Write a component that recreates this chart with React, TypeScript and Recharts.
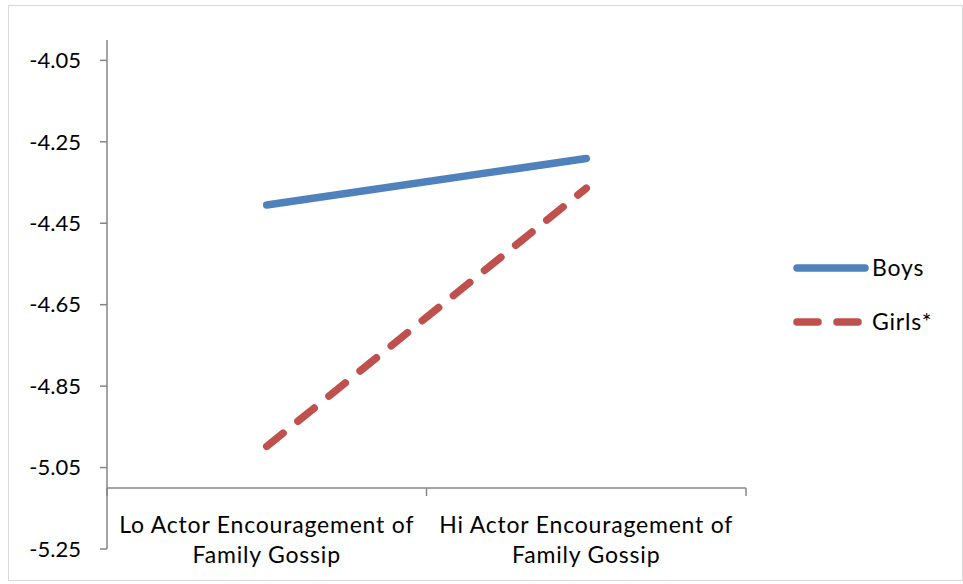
import React from "react";
import { LineChart, Line, XAxis, YAxis, ReferenceLine } from "recharts";

const categoryLines: string[][] = [
  ["Lo Actor Encouragement of", "Family Gossip"],
  ["Hi Actor Encouragement of", "Family Gossip"],
];
const categories = ["Lo", "Hi"];
const boys = [-4.405, -4.291];
const girls = [-4.998, -4.364];
const yTicks = [-5.25, -5.05, -4.85, -4.65, -4.45, -4.25, -4.05];
const yDomain: [number, number] = [-5.25, -4.0];
const crossAt = -5.1;
const seriesNames = ["Boys", "Girls*"];

const data = categories.map((c, i) => ({ cat: c, boys: boys[i], girls: girls[i] }));

const FONT = "Lato, 'Open Sans', sans-serif";
const AXIS = "#868686";
const BLUE = "#4F81BD";
const RED = "#C0504D";

const XTick = (props: any) => {
  const { x, y, index, width, visibleTicksCount } = props;
  const count = visibleTicksCount || categories.length;
  const band = width / count;
  const lineY = y - 61;
  const lines = categoryLines[index] || [];
  return (
    <g>
      <line x1={x - band / 2} x2={x - band / 2} y1={lineY} y2={lineY + 8} stroke={AXIS} strokeWidth={1.5} />
      {index === count - 1 && (
        <line x1={x + band / 2} x2={x + band / 2} y1={lineY} y2={lineY + 8} stroke={AXIS} strokeWidth={1.5} />
      )}
      <text x={x} y={y - 16} textAnchor="middle" fontFamily={FONT} fontSize={23} letterSpacing={0.8} fill="#000">
        {lines[0]}
      </text>
      <text x={x} y={y + 14} textAnchor="middle" fontFamily={FONT} fontSize={23} letterSpacing={0.8} fill="#000">
        {lines[1]}
      </text>
    </g>
  );
};

const LegendBox = () => (
  <svg width={170} height={100} style={{ position: "absolute", left: 786, top: 250 }}>
    <line x1={11} x2={79} y1={18} y2={18} stroke={BLUE} strokeWidth={7.5} strokeLinecap="round" />
    <text x={86} y={26} fontFamily={FONT} fontSize={23} letterSpacing={0.8} fill="#000">{seriesNames[0]}</text>
    <line x1={11} x2={72} y1={72} y2={72} stroke={RED} strokeWidth={7.5} strokeLinecap="round" strokeDasharray="21 19" />
    <text x={86} y={80} fontFamily={FONT} fontSize={23} letterSpacing={0.8} fill="#000">{seriesNames[1]}</text>
  </svg>
);

export default function App() {
  return (
    <div style={{ position: "absolute", left: 0, top: 0, width: 963, height: 584, background: "#fff" }}>
      <div
        style={{
          position: "absolute",
          left: 8,
          top: 5,
          width: 953,
          height: 574,
          border: "1.5px solid #d9d9d9",
        }}
      />
      <div style={{ position: "absolute", left: 0, top: 0 }}>
        <LineChart width={963} height={584} data={data} margin={{ top: 40, right: 217, bottom: 0, left: 0 }}>
          <XAxis
            dataKey="cat"
            type="category"
            scale="band"
            height={35}
            axisLine={false}
            tickLine={false}
            tickSize={0}
            tickMargin={0}
            interval={0}
            tick={<XTick />}
          />
          <YAxis
            type="number"
            domain={yDomain}
            ticks={yTicks}
            width={107}
            allowDataOverflow
            axisLine={{ stroke: AXIS, strokeWidth: 1.5 }}
            tickLine={{ stroke: AXIS, strokeWidth: 1.5 }}
            tickSize={7}
            tickMargin={19}
            tick={{ fill: "#000", fontSize: 22, fontFamily: FONT }}
          />
          <ReferenceLine y={crossAt} stroke={AXIS} strokeWidth={1.5} ifOverflow="extendDomain" />
          <Line
            dataKey="boys"
            name={seriesNames[0]}
            stroke={BLUE}
            strokeWidth={7.5}
            strokeLinecap="round"
            dot={false}
            isAnimationActive={false}
          />
          <Line
            dataKey="girls"
            name={seriesNames[1]}
            stroke={RED}
            strokeWidth={7.5}
            strokeLinecap="round"
            strokeDasharray="21 19"
            dot={false}
            isAnimationActive={false}
          />
        </LineChart>
      </div>
      <LegendBox />
    </div>
  );
}
